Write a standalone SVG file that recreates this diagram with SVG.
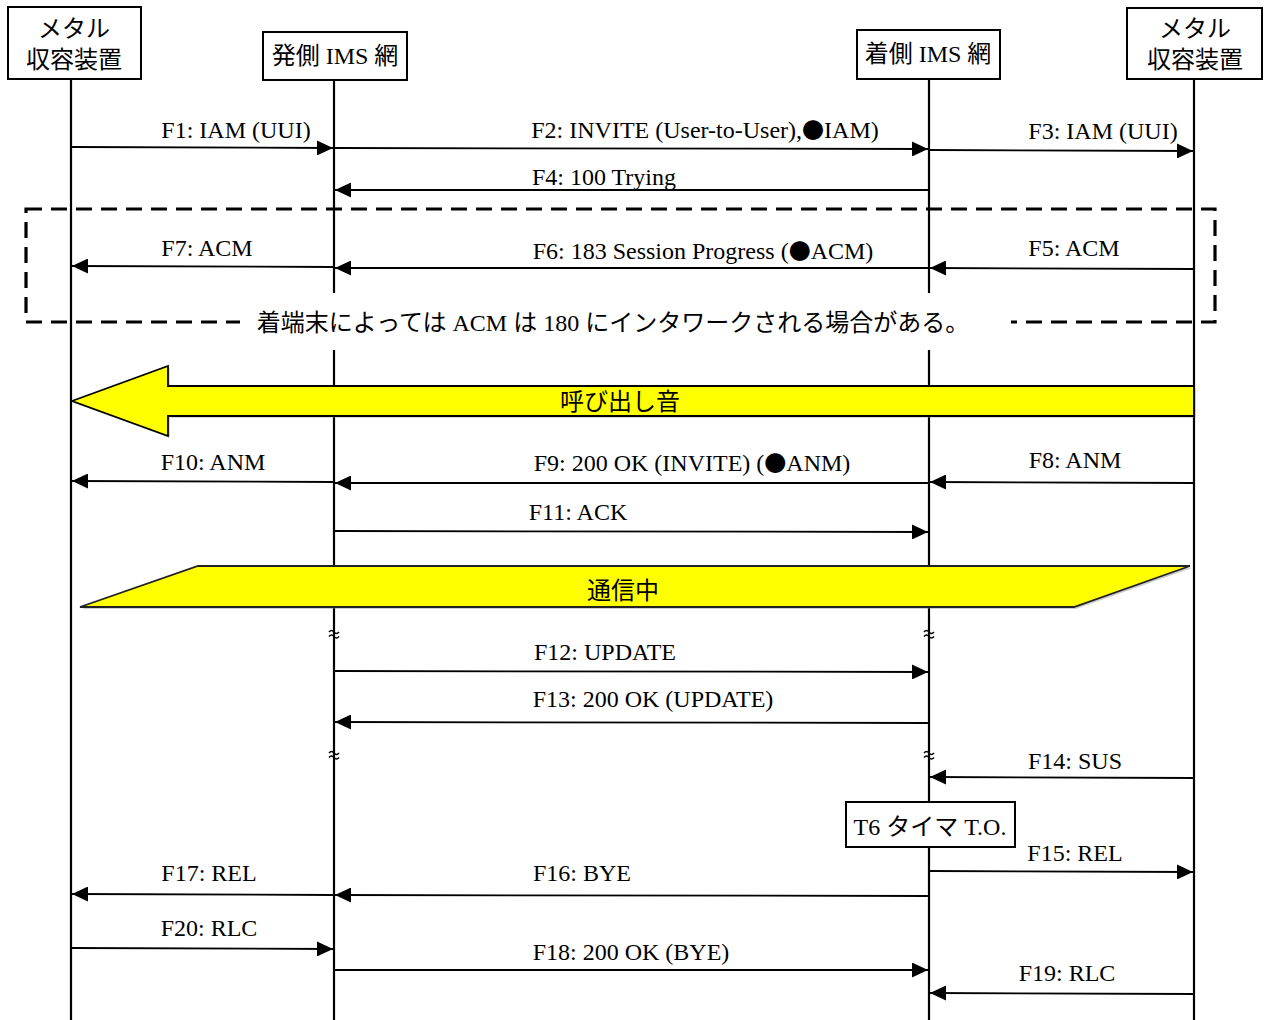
<svg xmlns="http://www.w3.org/2000/svg" width="1264" height="1020" viewBox="0 0 1264 1020">
<style>
text{font-family:"Liberation Serif","Noto Sans CJK JP",serif;fill:#000}
.lbl{font-size:24px;text-anchor:middle}
.hdr{font-size:24px;text-anchor:middle}
.cjk{font-family:"Noto Sans CJK JP",sans-serif;font-size:22px}
.box{fill:#fff;stroke:#000;stroke-width:2}
.life{stroke:#000;stroke-width:2.2;fill:none}
.msg{stroke:#000;stroke-width:1.8;fill:none;marker-end:url(#ah)}
.brk{stroke:#000;stroke-width:1.5;fill:none}
</style>
<defs>
<marker id="ah" markerUnits="userSpaceOnUse" markerWidth="17" markerHeight="15" refX="16" refY="7.5" orient="auto">
<path d="M0,0 L16,7.5 L0,15 Z" fill="#000"/>
</marker>
</defs>
<rect width="1264" height="1020" fill="#fff"/>
<g id="lifelines">
<line class="life" x1="71" y1="79" x2="71" y2="1020"/>
<line class="life" x1="334" y1="80" x2="334" y2="1020"/>
<line class="life" x1="929" y1="79" x2="929" y2="1020"/>
<line class="life" x1="1194" y1="79" x2="1194" y2="1020"/>
</g>
<g id="node-metal-left">
<rect class="box" x="8" y="7" width="133" height="72"/>
<text class="hdr" x="74" y="37">メタル</text>
<text class="hdr" x="74" y="68">収容装置</text>
</g>
<g id="node-orig-ims">
<rect class="box" x="263" y="32" width="144" height="48"/>
<text class="hdr" x="335" y="64">発側 IMS 網</text>
</g>
<g id="node-term-ims">
<rect class="box" x="857" y="30" width="143" height="49"/>
<text class="hdr" x="928" y="62">着側 IMS 網</text>
</g>
<g id="node-metal-right">
<rect class="box" x="1127" y="8" width="135" height="71"/>
<text class="hdr" x="1195" y="37">メタル</text>
<text class="hdr" x="1195" y="68">収容装置</text>
</g>
<g id="note-acm">
<rect x="26" y="209" width="1189" height="113" fill="none" stroke="#000" stroke-width="3.2" stroke-dasharray="16 9"/>
<rect x="240" y="293" width="771" height="57" fill="#fff"/>
<text class="lbl" x="613" y="331" style="font-size:24px">着端末によっては ACM は 180 にインタワークされる場合がある。</text>
</g>
<g id="ringback">
<polygon points="74,403 170,368 170,388 1196,388 1196,418 170,418 170,438" fill="#999" opacity="0.35"/>
<polygon points="72,401 168,366 168,386 1194,386 1194,416 168,416 168,436" fill="#ffff00" stroke="#000" stroke-width="1.8"/>
<text class="lbl" x="620" y="410">呼び出し音</text>
</g>
<g id="in-call">
<polygon points="82,609 200,568 1192,568 1076,609" fill="#888" opacity="0.4"/>
<polygon points="80,607 198,566 1190,566 1074,607" fill="#ffff00" stroke="#222" stroke-width="1.8"/>
<text class="lbl" x="623" y="599">通信中</text>
</g>
<g id="breaks">
<path class="brk" d="M329,632 q2.5,-3 5,0 t5,0 M329,636.5 q2.5,-3 5,0 t5,0"/>
<path class="brk" d="M924,632 q2.5,-3 5,0 t5,0 M924,636.5 q2.5,-3 5,0 t5,0"/>
<path class="brk" d="M329,753 q2.5,-3 5,0 t5,0 M329,757.5 q2.5,-3 5,0 t5,0"/>
<path class="brk" d="M924,753 q2.5,-3 5,0 t5,0 M924,757.5 q2.5,-3 5,0 t5,0"/>
</g>
<g id="t6-timer">
<rect class="box" x="846" y="802" width="169" height="45" stroke-width="1.5"/>
<text class="lbl" x="930" y="835">T6 タイマ T.O.</text>
</g>
<g id="connectors">
<line class="msg" x1="71" y1="147" x2="333" y2="148"/>
<line class="msg" x1="334" y1="148" x2="928" y2="149"/>
<line class="msg" x1="929" y1="150" x2="1193" y2="151"/>
<line class="msg" x1="929" y1="190" x2="335" y2="190"/>
<line class="msg" x1="334" y1="267" x2="72" y2="266"/>
<line class="msg" x1="929" y1="268" x2="335" y2="268"/>
<line class="msg" x1="1194" y1="269" x2="930" y2="268"/>
<line class="msg" x1="334" y1="482" x2="72" y2="481"/>
<line class="msg" x1="929" y1="483" x2="335" y2="483"/>
<line class="msg" x1="1194" y1="483" x2="930" y2="482"/>
<line class="msg" x1="334" y1="531" x2="928" y2="532"/>
<line class="msg" x1="334" y1="671" x2="928" y2="672"/>
<line class="msg" x1="929" y1="723" x2="335" y2="722"/>
<line class="msg" x1="1194" y1="778" x2="930" y2="777"/>
<line class="msg" x1="929" y1="871" x2="1193" y2="872"/>
<line class="msg" x1="334" y1="895" x2="72" y2="894"/>
<line class="msg" x1="929" y1="896" x2="335" y2="895"/>
<line class="msg" x1="71" y1="948" x2="333" y2="949"/>
<line class="msg" x1="334" y1="970" x2="928" y2="970"/>
<line class="msg" x1="1194" y1="994" x2="930" y2="993"/>
</g>
<g id="labels">
<text class="lbl" x="236" y="138">F1: IAM (UUI)</text>
<text class="lbl" x="705" y="138">F2: INVITE (User-to-User),<tspan class="cjk">●</tspan>IAM)</text>
<text class="lbl" x="1103" y="139">F3: IAM (UUI)</text>
<text class="lbl" x="604" y="185">F4: 100 Trying</text>
<text class="lbl" x="207" y="256">F7: ACM</text>
<text class="lbl" x="703" y="259">F6: 183 Session Progress (<tspan class="cjk">●</tspan>ACM)</text>
<text class="lbl" x="1074" y="256">F5: ACM</text>
<text class="lbl" x="213" y="470">F10: ANM</text>
<text class="lbl" x="692" y="471">F9: 200 OK (INVITE) (<tspan class="cjk">●</tspan>ANM)</text>
<text class="lbl" x="1075" y="468">F8: ANM</text>
<text class="lbl" x="578" y="520">F11: ACK</text>
<text class="lbl" x="605" y="660">F12: UPDATE</text>
<text class="lbl" x="653" y="707">F13: 200 OK (UPDATE)</text>
<text class="lbl" x="1075" y="769">F14: SUS</text>
<text class="lbl" x="1075" y="861">F15: REL</text>
<text class="lbl" x="209" y="881">F17: REL</text>
<text class="lbl" x="582" y="881">F16: BYE</text>
<text class="lbl" x="209" y="936">F20: RLC</text>
<text class="lbl" x="631" y="960">F18: 200 OK (BYE)</text>
<text class="lbl" x="1067" y="981">F19: RLC</text>
</g>
</svg>
